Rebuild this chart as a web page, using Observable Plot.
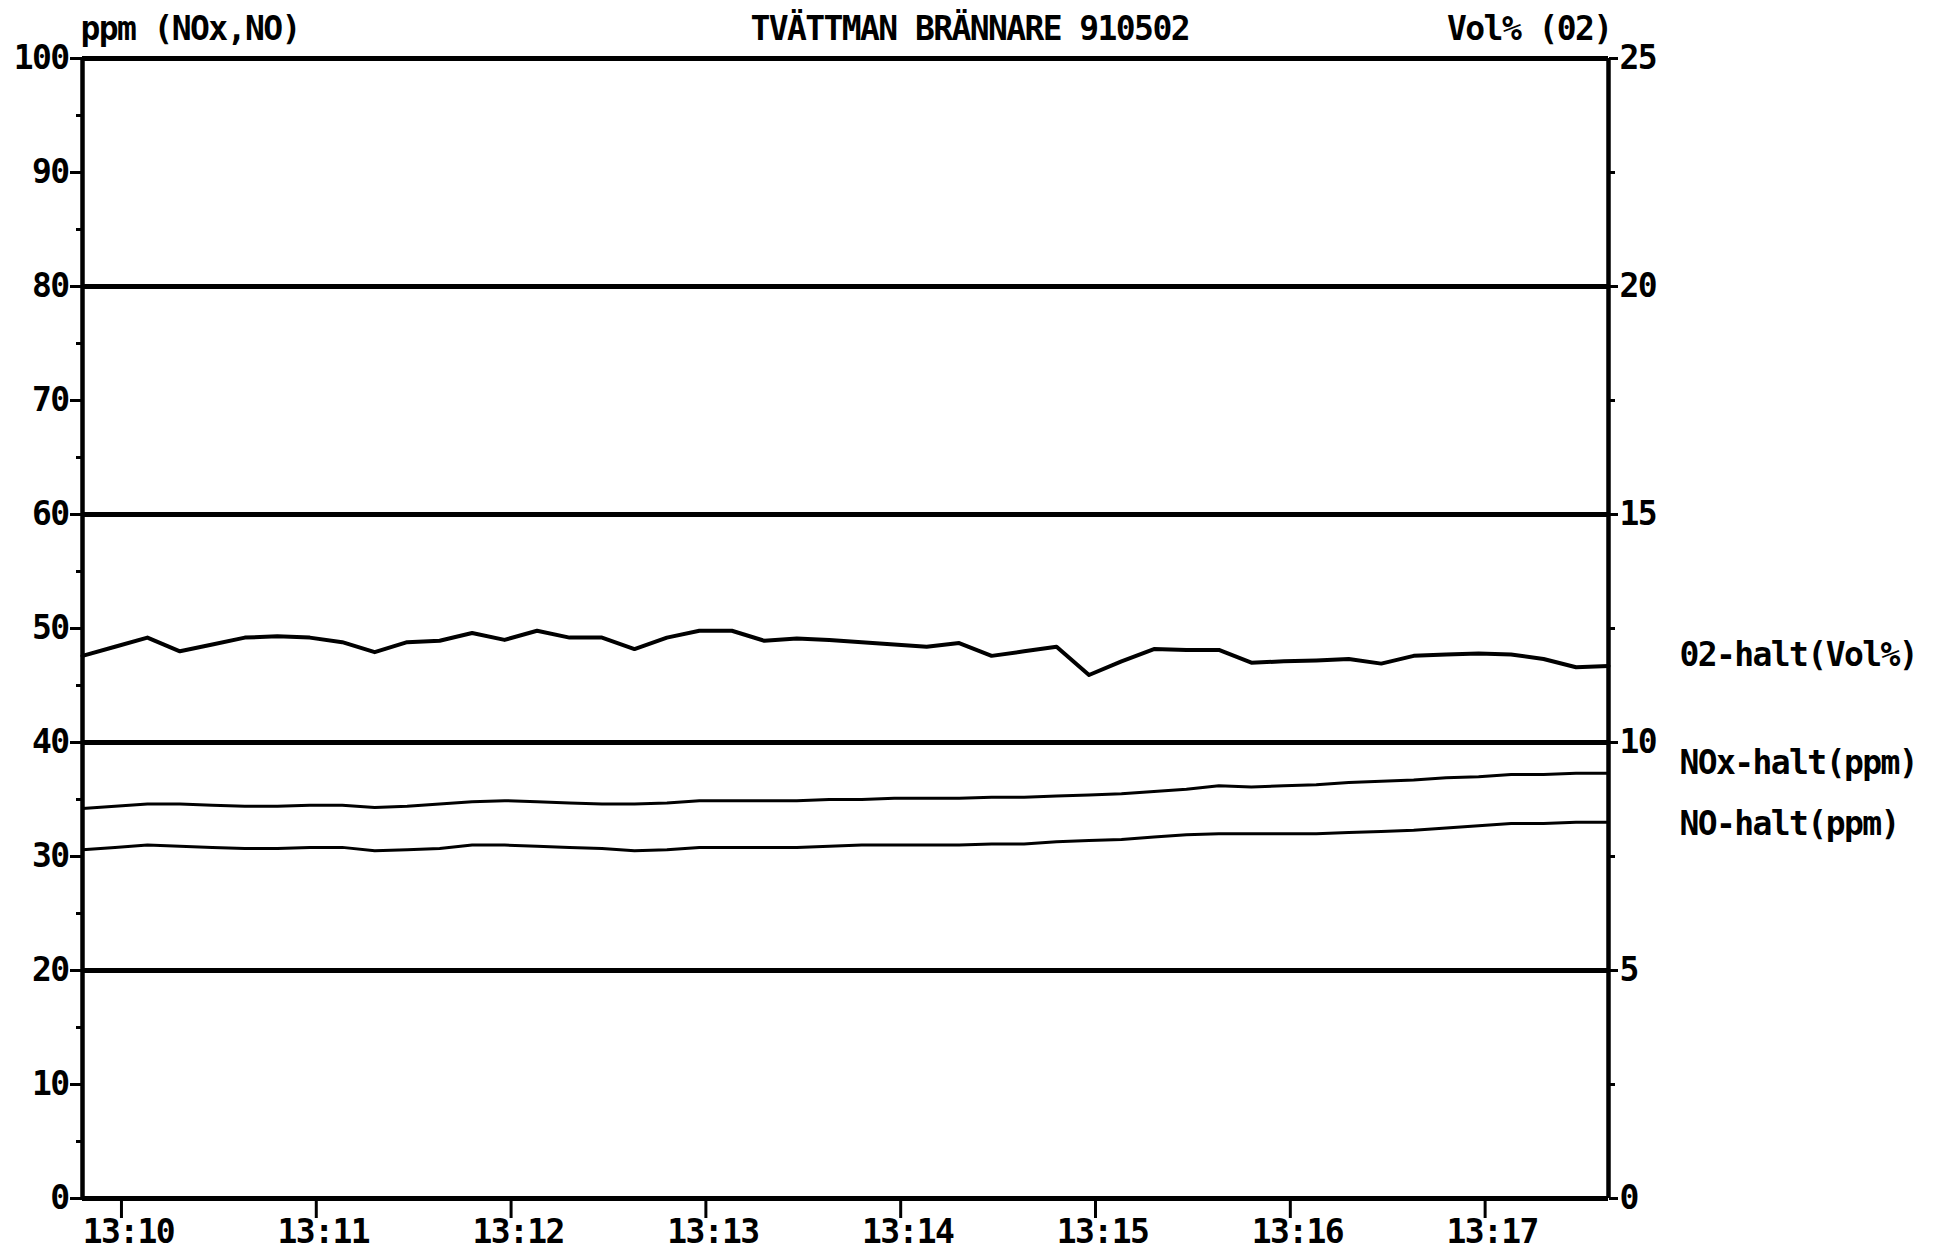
<!DOCTYPE html>
<html>
<head>
<meta charset="utf-8">
<script src="https://cdn.jsdelivr.net/npm/d3@7"></script>
<script src="https://cdn.jsdelivr.net/npm/@observablehq/plot@0.6"></script>
<style>
  html, body { margin: 0; padding: 0; background: #fff; }
</style>
</head>
<body>
<div id="chart"></div>
<script>
// ---- data ----
const titleText = "TVÄTTMAN BRÄNNARE 910502";
const leftAxisTitle = "ppm (NOx,NO)";
const rightAxisTitle = "Vol% (02)";
const seriesLabels = ["02-halt(Vol%)", "NOx-halt(ppm)", "NO-halt(ppm)"];

const startTime = "1991-05-02T13:09:48Z";
const stepSeconds = 10;

// O2 in Vol% (right axis, 0–25)
const o2Vol = [
  11.90, 12.10, 12.30, 12.00, 12.15, 12.30, 12.33, 12.30, 12.20, 11.98,
  12.20, 12.23, 12.40, 12.25, 12.45, 12.30, 12.30, 12.05, 12.30, 12.45,
  12.45, 12.23, 12.28, 12.25, 12.20, 12.15, 12.10, 12.18, 11.90, 12.00,
  12.10, 11.48, 11.78, 12.05, 12.03, 12.03, 11.75, 11.78, 11.80, 11.83,
  11.73, 11.90, 11.93, 11.95, 11.93, 11.83, 11.65, 11.68
];
// NOx in ppm (left axis, 0–100)
const noxPpm = [
  34.2, 34.4, 34.6, 34.6, 34.5, 34.4, 34.4, 34.5, 34.5, 34.3,
  34.4, 34.6, 34.8, 34.9, 34.8, 34.7, 34.6, 34.6, 34.7, 34.9,
  34.9, 34.9, 34.9, 35.0, 35.0, 35.1, 35.1, 35.1, 35.2, 35.2,
  35.3, 35.4, 35.5, 35.7, 35.9, 36.2, 36.1, 36.2, 36.3, 36.5,
  36.6, 36.7, 36.9, 37.0, 37.2, 37.2, 37.3, 37.3
];
// NO in ppm (left axis, 0–100)
const noPpm = [
  30.6, 30.8, 31.0, 30.9, 30.8, 30.7, 30.7, 30.8, 30.8, 30.5,
  30.6, 30.7, 31.0, 31.0, 30.9, 30.8, 30.7, 30.5, 30.6, 30.8,
  30.8, 30.8, 30.8, 30.9, 31.0, 31.0, 31.0, 31.0, 31.1, 31.1,
  31.3, 31.4, 31.5, 31.7, 31.9, 32.0, 32.0, 32.0, 32.0, 32.1,
  32.2, 32.3, 32.5, 32.7, 32.9, 32.9, 33.0, 33.0
];

const timeTickLabels = ["13:10", "13:11", "13:12", "13:13", "13:14", "13:15", "13:16", "13:17"];
const leftTicks = [0, 10, 20, 30, 40, 50, 60, 70, 80, 90, 100];
const leftMinorTicks = [5, 15, 25, 35, 45, 55, 65, 75, 85, 95];
const rightTicks = [0, 5, 10, 15, 20, 25];
const rightMinorTicks = [2.5, 7.5, 12.5, 17.5, 22.5];
const gridLines = [20, 40, 60, 80, 100];
const ppmPerVol = 100 / 25;

// ---- build table ----
const t0 = Date.parse(startTime);
const table = o2Vol.map((o2, i) => ({
  time: new Date(t0 + i * stepSeconds * 1000),
  o2,
  nox: noxPpm[i],
  no: noPpm[i]
}));
const tickDates = timeTickLabels.map(s => new Date(`1991-05-02T${s}:00Z`));
const last = table[table.length - 1];

const F = {fontSize: 33, fontWeight: "bold", fontFamily: "'DejaVu Sans Mono', monospace"};

const chart = Plot.plot({
  width: 1933,
  height: 1256,
  marginLeft: 82,
  marginRight: 325,
  marginTop: 58,
  marginBottom: 58,
  style: {background: "#fff", color: "#000", fontFamily: "'DejaVu Sans Mono', monospace", fontWeight: "bold", letterSpacing: "-1.6px"},
  x: {type: "utc", domain: [table[0].time, last.time]},
  y: {domain: [0, 100]},
  marks: [
    Plot.ruleY(gridLines, {y: d => d, stroke: "#000", strokeWidth: 5}),
    Plot.ruleY([0], {y: d => d, stroke: "#000", strokeWidth: 5}),
    Plot.ruleX([table[0].time, last.time], {x: d => d, stroke: "#000", strokeWidth: 4.5}),

    Plot.axisY({ticks: leftTicks, tickSize: 12, tickPadding: 2, strokeWidth: 3, label: null, ...F}),
    Plot.axisY({ticks: leftMinorTicks, tickSize: 6, tickFormat: () => "", strokeWidth: 3, label: null}),
    Plot.axisY({anchor: "right", ticks: rightTicks.map(v => v * ppmPerVol), tickFormat: d => d / ppmPerVol,
                tickSize: 9, tickPadding: 2, strokeWidth: 3, label: null, ...F}),
    Plot.axisY({anchor: "right", ticks: rightMinorTicks.map(v => v * ppmPerVol), tickSize: 6,
                tickFormat: () => "", strokeWidth: 3, label: null}),

    Plot.axisX({ticks: tickDates, tickSize: 20, tickFormat: () => "", strokeWidth: 3, label: null}),
    Plot.axisX({ticks: tickDates, tickSize: 0, tickPadding: 21, dx: 7, tickFormat: d3.utcFormat("%H:%M"), label: null, ...F}),

    Plot.line(table, {x: "time", y: d => d.o2 * ppmPerVol, stroke: "#000", strokeWidth: 4}),
    Plot.line(table, {x: "time", y: "nox", stroke: "#000", strokeWidth: 3}),
    Plot.line(table, {x: "time", y: "no", stroke: "#000", strokeWidth: 3}),

    Plot.text([titleText], {text: d => d, frameAnchor: "top-left", textAnchor: "start", lineAnchor: "bottom", dx: 668, dy: -19, ...F}),
    Plot.text([leftAxisTitle], {text: d => d, frameAnchor: "top-left", textAnchor: "start", lineAnchor: "bottom", dx: -2, dy: -19, ...F}),
    Plot.text([rightAxisTitle], {text: d => d, frameAnchor: "top-right", textAnchor: "end", lineAnchor: "bottom", dx: 3, dy: -19, ...F}),

    Plot.text([last], {x: "time", y: d => d.o2 * ppmPerVol, text: () => seriesLabels[0], dx: 71, dy: -10, textAnchor: "start", lineAnchor: "middle", ...F}),
    Plot.text([last], {x: "time", y: "nox", text: () => seriesLabels[1], dx: 71, dy: -10, textAnchor: "start", lineAnchor: "middle", ...F}),
    Plot.text([last], {x: "time", y: "no", text: () => seriesLabels[2], dx: 71, dy: 2, textAnchor: "start", lineAnchor: "middle", ...F})
  ]
});
document.getElementById("chart").appendChild(chart);
</script>
</body>
</html>
